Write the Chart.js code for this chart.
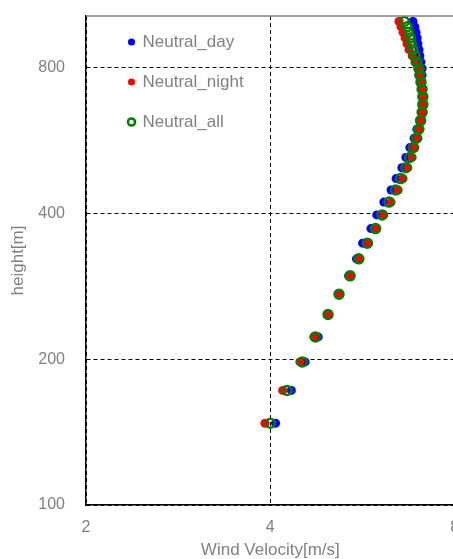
<!DOCTYPE html>
<html lang="en">
<head>
    <meta charset="UTF-8">
    <title>Wind profile</title>
    <style>
        html, body { margin: 0; padding: 0; background: #fff; overflow: hidden; }
    </style>
</head>
<body>
    <canvas id="myChart" width="470" height="559"></canvas>
    <script src="https://cdn.jsdelivr.net/npm/chart.js"></script>
    <script>
        // heights [m]
        const heights = [147.5, 172.5, 197.5, 222.5, 247.5, 272.5, 297.5, 322.5, 347.5, 372.5, 397.5, 422.5, 447.5, 472.5,
                         497.5, 522.5, 547.5, 572.5, 597.5, 622.5, 647.5, 672.5, 697.5, 722.5, 747.5, 772.5, 797.5, 822.5,
                         847.5, 872.5, 897.5, 922.5, 947.5, 972.5, 997.5];
        // wind velocity [m/s]
        const dayVel = [4.08, 4.33, 4.56, 4.79, 4.97, 5.18, 5.37, 5.53, 5.66, 5.84, 5.97, 6.13, 6.30, 6.42, 6.56, 6.66, 6.76,
                        6.87, 6.94, 7.02, 7.08, 7.10, 7.10, 7.08, 7.06, 7.08, 7.08, 7.05, 7.02, 7.00, 6.97, 6.95, 6.92, 6.89, 6.84];
        const nightVel = [3.92, 4.19, 4.47, 4.71, 4.97, 5.18, 5.40, 5.60, 5.79, 5.97, 6.13, 6.30, 6.47, 6.59, 6.71, 6.82, 6.89,
                          6.97, 7.02, 7.05, 7.08, 7.10, 7.10, 7.08, 7.05, 7.02, 6.97, 6.89, 6.82, 6.74, 6.69, 6.64, 6.59, 6.54, 6.49];
        const allVel = [4.00, 4.26, 4.51, 4.74, 4.97, 5.18, 5.40, 5.58, 5.76, 5.94, 6.09, 6.25, 6.41, 6.53, 6.66, 6.76, 6.85,
                        6.93, 6.99, 7.04, 7.08, 7.10, 7.10, 7.08, 7.05, 7.02, 7.00, 6.94, 6.89, 6.84, 6.80, 6.77, 6.72, 6.69, 6.62];
        const xTicks = [2, 4, 8];
        const yTicks = [100, 200, 400, 800];

        const toPoints = (vals) => vals.map((v, i) => ({ x: v, y: heights[i] }));
        const grey = '#808080';
        const font = 'Liberation Sans, Arial, sans-serif';

        // top frame line + legend placed inside plot area
        const framePlugin = {
            id: 'frame',
            afterLayout(chart) {
                const lg = chart.legend;
                lg.left = chart.chartArea.left + 20;
                lg.top = chart.chartArea.top - 5.5;
            },
            afterDraw(chart) {
                const { ctx, chartArea } = chart;
                ctx.save();
                ctx.strokeStyle = grey;
                ctx.lineWidth = 1.5;
                ctx.beginPath();
                ctx.moveTo(chartArea.left, chartArea.top);
                ctx.lineTo(chartArea.right, chartArea.top);
                ctx.lineTo(chartArea.right, chartArea.bottom);
                ctx.stroke();
                ctx.restore();
            }
        };

        new Chart(document.getElementById('myChart'), {
            type: 'scatter',
            data: {
                datasets: [{
                    label: 'Neutral_day',
                    data: toPoints(dayVel),
                    backgroundColor: '#0000FF',
                    borderColor: '#0000FF',
                    borderWidth: 0,
                    pointRadius: 4.5,
                    order: 3
                }, {
                    label: 'Neutral_night',
                    data: toPoints(nightVel),
                    backgroundColor: '#FF0000',
                    borderColor: '#FF0000',
                    borderWidth: 0,
                    pointRadius: 4.5,
                    order: 2
                }, {
                    label: 'Neutral_all',
                    data: toPoints(allVel),
                    backgroundColor: 'rgba(0,0,0,0)',
                    borderColor: '#008000',
                    borderWidth: 2.5,
                    pointRadius: 4.5,
                    order: 1
                }]
            },
            options: {
                responsive: false,
                animation: false,
                layout: { padding: { top: 16, right: 15.4, left: 0, bottom: 0 } },
                plugins: {
                    tooltip: { enabled: false },
                    legend: {
                        position: 'chartArea',
                        align: 'start',
                        labels: {
                            usePointStyle: true,
                            boxWidth: 5,
                            boxHeight: 5,
                            padding: 23,
                            color: grey,
                            font: { family: font, size: 17 },
                            sort: (a, b) => a.datasetIndex - b.datasetIndex
                        }
                    }
                },
                scales: {
                    x: {
                        type: 'logarithmic',
                        min: 2,
                        max: 8,
                        afterBuildTicks: (scale) => { scale.ticks = xTicks.map(v => ({ value: v })); },
                        afterFit: (scale) => {
                            scale.height = 54;
                            scale.paddingLeft = 0;
                            scale.paddingRight = 0;
                        },
                        ticks: {
                            color: grey,
                            font: { family: font, size: 16 },
                            padding: 13,
                            autoSkip: false,
                            maxRotation: 0,
                            callback: (v) => String(v)
                        },
                        grid: {
                            color: '#000',
                            lineWidth: 1,
                            drawTicks: false
                        },
                        border: { color: '#000', width: 1.5, dash: [4, 3] },
                        title: {
                            display: true,
                            text: 'Wind Velocity[m/s]',
                            color: grey,
                            font: { family: font, size: 17 },
                            padding: { top: 0, bottom: -2 }
                        }
                    },
                    y: {
                        type: 'logarithmic',
                        min: 100,
                        max: 1024,
                        afterBuildTicks: (scale) => { scale.ticks = yTicks.map(v => ({ value: v })); },
                        afterFit: (scale) => {
                            scale.width = 86;
                            scale.paddingTop = 0;
                            scale.paddingBottom = 0;
                        },
                        ticks: {
                            color: grey,
                            font: { family: font, size: 16 },
                            padding: 21,
                            autoSkip: false,
                            callback: (v) => String(v)
                        },
                        grid: {
                            color: '#000',
                            lineWidth: 1,
                            drawTicks: false
                        },
                        border: { color: '#000', width: 1.5, dash: [4, 3] },
                        title: {
                            display: true,
                            text: 'height[m]',
                            color: grey,
                            font: { family: font, size: 17 },
                            padding: { top: 8, bottom: 0 }
                        }
                    }
                }
            },
            plugins: [framePlugin]
        });
    </script>
</body>
</html>
